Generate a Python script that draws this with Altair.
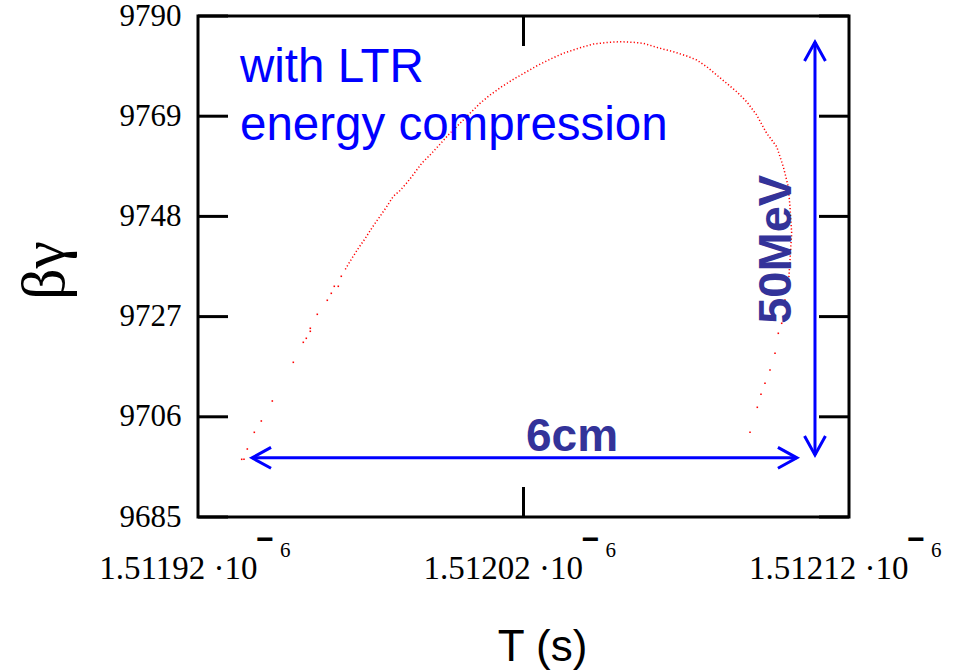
import altair as alt
import pandas as pd

# ---------------- data (T offsets in ps relative to 1.51192e-6 s, beta*gamma) ----------------
T0 = 1.51192e-6

sparse_left_ps = [13.43, 14.13, 15.15, 17.30, 19.45, 22.83, 29.28, 32.35, 33.27, 34.50, 34.50,
                  36.65, 39.72, 40.95, 41.87, 43.10, 44.02]
sparse_left_bg = [9697.09, 9697.09, 9699.25, 9702.75, 9705.12, 9709.31, 9717.42, 9721.61, 9722.45,
                  9724.55, 9723.92, 9727.48, 9730.42, 9731.88, 9733.35, 9733.35, 9735.45]

sparse_right_ps = [169.59, 171.83, 172.96, 174.19, 175.73, 177.27, 178.28, 179.32, 180.34]
sparse_right_bg = [9702.75, 9707.99, 9710.72, 9713.02, 9715.81, 9719.31, 9723.50, 9725.60, 9730.48]

dense_ps = [45.25, 47.10, 49.25, 51.40, 53.55, 55.70, 57.85, 60.00, 62.15, 64.30, 65.65, 68.73,
            71.28, 73.83, 76.90, 80.49, 83.56, 86.64, 89.71, 93.30, 96.87, 100.98, 104.55,
            108.14, 112.23, 116.84, 121.44, 125.56, 129.65, 133.64, 136.80, 141.94, 146.02,
            150.14, 153.21, 156.28, 159.36, 162.43, 165.50, 168.57, 171.64, 174.71, 177.79,
            179.82, 181.35, 181.87, 182.39, 181.87, 181.35]
dense_bg = [9736.91, 9739.01, 9741.31, 9743.41, 9745.72, 9747.81, 9749.91, 9752.21, 9753.47,
            9755.15, 9756.32, 9759.13, 9760.87, 9762.75, 9765.06, 9767.51, 9769.61, 9771.70,
            9773.44, 9775.18, 9776.73, 9778.33, 9779.73, 9780.93, 9782.18, 9783.23, 9784.13,
            9784.45, 9784.61, 9784.49, 9784.28, 9783.23, 9782.52, 9781.62, 9780.78, 9779.37,
            9777.63, 9775.89, 9774.13, 9772.04, 9769.25, 9765.42, 9762.61, 9758.42, 9754.22,
            9750.03, 9744.46, 9738.86, 9733.27]

x_ticks = [1.51192e-6, 1.51202e-6, 1.51212e-6]
y_ticks = [9685, 9706, 9727, 9748, 9769, 9790]

# annotations (data units)
arrow_h_ps = [16.6, 184.0]
arrow_h_bg = 9697.4
arrow_v_ps = 189.55
arrow_v_bg = [9698.0, 9784.55]

label_lines = ["with LTR", "energy compression"]
label_ps = 12.9
label_bg = [9776.2, 9764.0]


def to_s(ps):
    return [T0 + p * 1e-12 for p in ps]


sparse_df = pd.DataFrame({"T": to_s(sparse_left_ps + sparse_right_ps),
                          "bg": sparse_left_bg + sparse_right_bg})
dense_df = pd.DataFrame({"T": to_s(dense_ps), "bg": dense_bg, "i": list(range(len(dense_ps)))})
xt_df = pd.DataFrame({"T": x_ticks})
yt_df = pd.DataFrame({"bg": y_ticks})
mid_df = pd.DataFrame({"T": [x_ticks[1]]})

shaft_h = pd.DataFrame({"T": [to_s([arrow_h_ps[0]])[0]], "T2": [to_s([arrow_h_ps[1]])[0]], "bg": [arrow_h_bg]})
shaft_v = pd.DataFrame({"T": to_s([arrow_v_ps]), "bg": [arrow_v_bg[0]], "bg2": [arrow_v_bg[1]]})
heads = pd.DataFrame({
    "T": to_s([arrow_h_ps[0], arrow_h_ps[1], arrow_v_ps, arrow_v_ps]),
    "bg": [arrow_h_bg, arrow_h_bg, arrow_v_bg[1], arrow_v_bg[0]],
    "ang": [180, 0, 270, 90],
})
labels_df = pd.DataFrame({"T": to_s([label_ps, label_ps]), "bg": label_bg, "txt": label_lines})
cm_df = pd.DataFrame({"T": to_s([114.9]), "bg": [9698.9], "txt": ["6cm"]})
mev_df = pd.DataFrame({"T": to_s([182.2]), "bg": [9741.1], "txt": ["50MeV"]})

W, H = 651, 501
xs = alt.Scale(domain=[x_ticks[0], x_ticks[-1]], nice=False, zero=False)
ys = alt.Scale(domain=[y_ticks[0], y_ticks[-1]], nice=False, zero=False)

x_axis = alt.Axis(values=x_ticks, labelExpr="format(datum.value*1e6,'.5f') + ' ·10'",
                  labelFont="Liberation Serif", labelFontSize=33, labelColor="black",
                  labelAlign="right", labelOffset=59, labelBaseline="alphabetic", labelPadding=61,
                  ticks=False, tickSize=0, domain=False, grid=False, labelOverlap=False,
                  labelFlush=False, labelBound=False,
                  title="T (s)", titleFont="Liberation Sans", titleFontSize=44,
                  titleFontWeight="normal", titleColor="black", titleX=344, titleY=143,
                  titleAlign="center", titleBaseline="alphabetic")
y_axis = alt.Axis(values=y_ticks, format="d", labelFont="Liberation Serif", labelFontSize=31,
                  labelColor="black", labelPadding=17, ticks=False, tickSize=0, domain=False,
                  grid=False, labelOverlap=False, labelFlush=False, labelBound=False,
                  title="βγ", titleFont="Liberation Serif", titleFontSize=62,
                  titleFontWeight="normal", titleColor="black", titleX=-135, titleY=254,
                  titleAngle=270, titleAlign="center", titleBaseline="alphabetic")


def X(field="T:Q"):
    return alt.X(field, scale=xs, axis=x_axis)


def Y(field="bg:Q"):
    return alt.Y(field, scale=ys, axis=y_axis)


pts = alt.Chart(sparse_df).mark_square(color="#ff0000", size=2.5, opacity=1).encode(
    x=X(), y=Y())

dense = alt.Chart(dense_df).mark_line(color="#ff0000", strokeWidth=1.5, strokeDash=[1.2, 2.2],
                                      strokeCap="butt").encode(
    x=X(), y=Y(), order="i:Q")

# inward ticks
yt_left = alt.Chart(yt_df).mark_rule(color="black", strokeWidth=3).encode(
    y=Y(), x=alt.value(0), x2=alt.value(30))
yt_right = alt.Chart(yt_df).mark_rule(color="black", strokeWidth=3).encode(
    y=Y(), x=alt.value(W - 30), x2=alt.value(W))
xt_top = alt.Chart(mid_df).mark_rule(color="black", strokeWidth=3).encode(
    x=X(), y=alt.value(0), y2=alt.value(30))
xt_bot = alt.Chart(mid_df).mark_rule(color="black", strokeWidth=3).encode(
    x=X(), y=alt.value(H - 30), y2=alt.value(H))

# superscript exponent of the x tick labels
sup_minus = alt.Chart(xt_df).mark_text(text="−", font="Liberation Sans", fontWeight="bold",
                                       fontSize=30, align="center", baseline="middle", dx=67,
                                       color="black").encode(
    x=X(), y=alt.value(524))
sup_six = alt.Chart(xt_df).mark_text(text="6", font="Liberation Serif", fontSize=21,
                                     align="left", baseline="alphabetic", dx=82,
                                     color="black").encode(
    x=X(), y=alt.value(541))

# arrows
blue = "#0000ff"
sh = alt.Chart(shaft_h).mark_rule(color=blue, strokeWidth=3).encode(
    x=X(), x2="T2:Q", y=Y())
sv = alt.Chart(shaft_v).mark_rule(color=blue, strokeWidth=3).encode(
    x=X(), y=Y(), y2="bg2:Q")
hd = alt.Chart(heads).mark_point(shape="M -1 -0.55 L 0 0 L -1 0.55", filled=False,
                                 color=blue, strokeWidth=3, size=1444, opacity=1).encode(
    x=X(), y=Y(), angle=alt.Angle("ang:Q", scale=None))

# text annotations
lbl = alt.Chart(labels_df).mark_text(font="Liberation Sans", fontSize=47.5, color=blue,
                                     align="left", baseline="alphabetic").encode(
    x=X(), y=Y(), text="txt:N")
cm = alt.Chart(cm_df).mark_text(font="Liberation Sans", fontSize=46, fontWeight="bold",
                                color="#333399", align="center", baseline="alphabetic").encode(
    x=X(), y=Y(), text="txt:N")
mev = alt.Chart(mev_df).mark_text(font="Liberation Sans", fontSize=47, fontWeight="bold",
                                  color="#333399", align="center", baseline="alphabetic",
                                  angle=270).encode(
    x=X(), y=Y(), text="txt:N")

chart = alt.layer(pts, dense, yt_left, yt_right, xt_top, xt_bot, sup_minus, sup_six,
                  sh, sv, hd, lbl, cm, mev).properties(
    width=W, height=H,
    autosize=alt.AutoSizeParams(type="none"),
    padding={"left": 198, "top": 16, "right": 110, "bottom": 155},
    background="white",
).configure_view(stroke="black", strokeWidth=3)

chart.save("out.html", embed_options={"renderer": "svg", "actions": False})
